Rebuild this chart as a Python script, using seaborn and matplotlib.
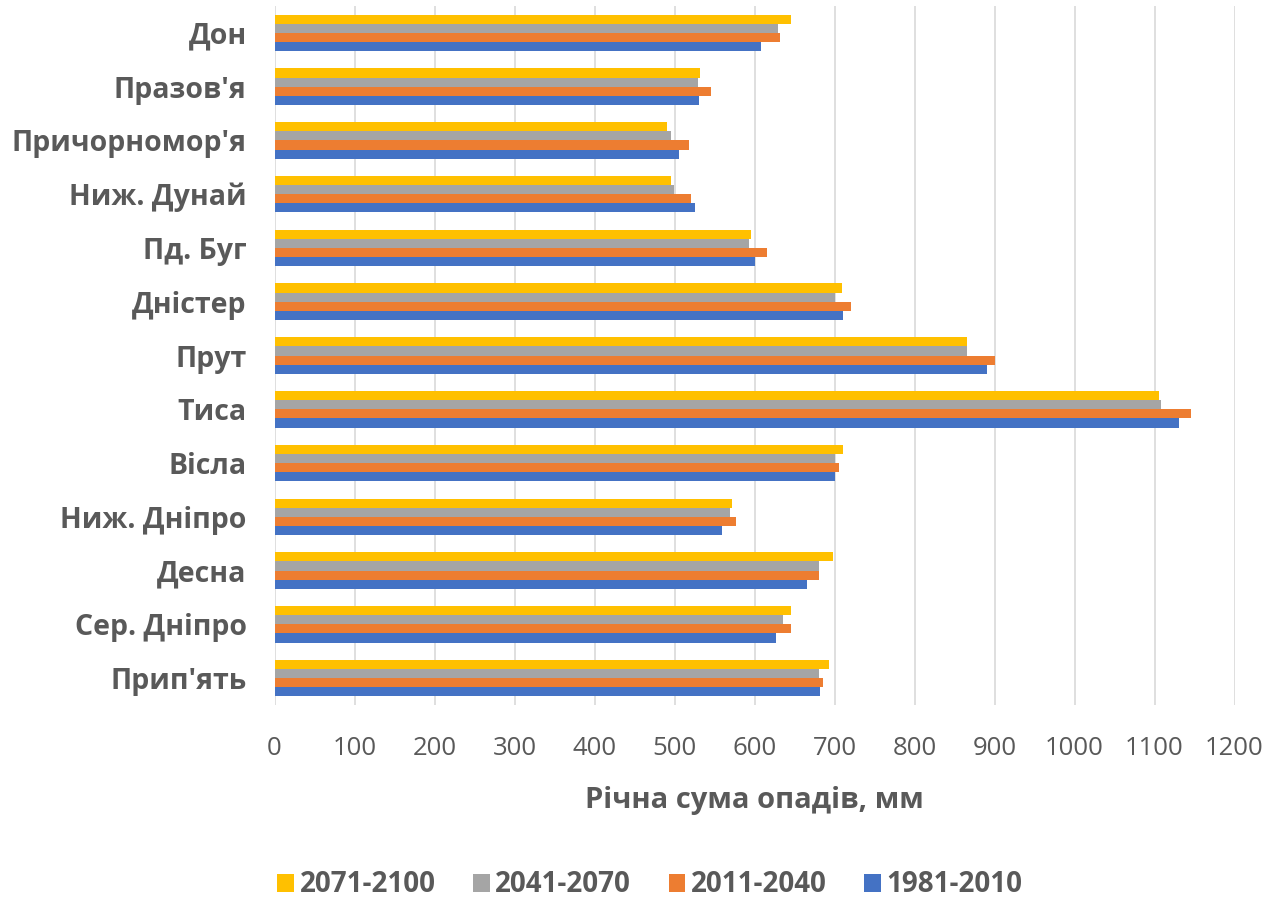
import matplotlib
matplotlib.use("Agg")
import matplotlib.pyplot as plt
import seaborn as sns
import pandas as pd

# Annual precipitation by river basin and period (mm)
basins = ["Дон", "Празов'я", "Причорномор'я", "Ниж. Дунай", "Пд. Буг", "Дністер",
          "Прут", "Тиса", "Вісла", "Ниж. Дніпро", "Десна", "Сер. Дніпро", "Прип'ять"]
periods = ["2071-2100", "2041-2070", "2011-2040", "1981-2010"]
p2071_2100 = [645, 532, 491, 496, 596, 709, 865, 1105, 711, 572, 698, 645, 693]
p2041_2070 = [629, 529, 496, 499, 593, 701, 865, 1108, 701, 569, 680, 635, 680]
p2011_2040 = [632, 545, 518, 521, 616, 721, 901, 1145, 706, 577, 680, 645, 685]
p1981_2010 = [608, 530, 506, 526, 601, 710, 890, 1131, 701, 559, 665, 627, 682]
colors = ["#FFC000", "#A5A5A5", "#ED7D31", "#4472C4"]

series = [p2071_2100, p2041_2070, p2011_2040, p1981_2010]
df = pd.DataFrame(
    [(b, per, v) for per, vals in zip(periods, series) for b, v in zip(basins, vals)],
    columns=["basin", "period", "value"],
)

sns.set_theme(style="white")
plt.rcParams["font.family"] = ["Open Sans", "DejaVu Sans"]

fig = plt.figure(figsize=(12.75, 8.99), dpi=100)
ax = fig.add_axes([274.5 / 1275, 194 / 899, 960 / 1275, 699 / 899])

sns.barplot(data=df, x="value", y="basin", hue="period", order=basins,
            hue_order=periods, palette=colors, orient="h", width=0.68,
            saturation=1, ax=ax, legend=True, linewidth=0)

ax.set_xlim(0, 1200)
ax.set_xticks(range(0, 1201, 100))
ax.grid(axis="x", color="#D9D9D9", linewidth=1.2)
ax.grid(axis="y", visible=False)
ax.set_axisbelow(True)
for s in ax.spines.values():
    s.set_visible(False)

ax.tick_params(axis="x", length=0, pad=22, labelsize=18.5, labelcolor="#595959")
ax.tick_params(axis="y", length=0, pad=20, labelcolor="#595959")
for lbl in ax.get_yticklabels():
    lbl.set_fontsize(20.5)
    lbl.set_fontweight("bold")

ax.set_ylabel("")
ax.set_xlabel("Річна сума опадів, мм", fontsize=21, fontweight="bold",
              color="#595959", labelpad=18)

handles, labels = ax.get_legend_handles_labels()
ax.legend_.remove()
fig.legend(handles, labels, loc="center", bbox_to_anchor=(650 / 1275, 1 - 885 / 899),
           ncol=4, frameon=False, handlelength=0.6, handleheight=0.6,
           handletextpad=0.2, columnspacing=1.35,
           prop={"size": 20, "weight": "bold"}, labelcolor="#595959")

fig.savefig("out.png", dpi=100)
